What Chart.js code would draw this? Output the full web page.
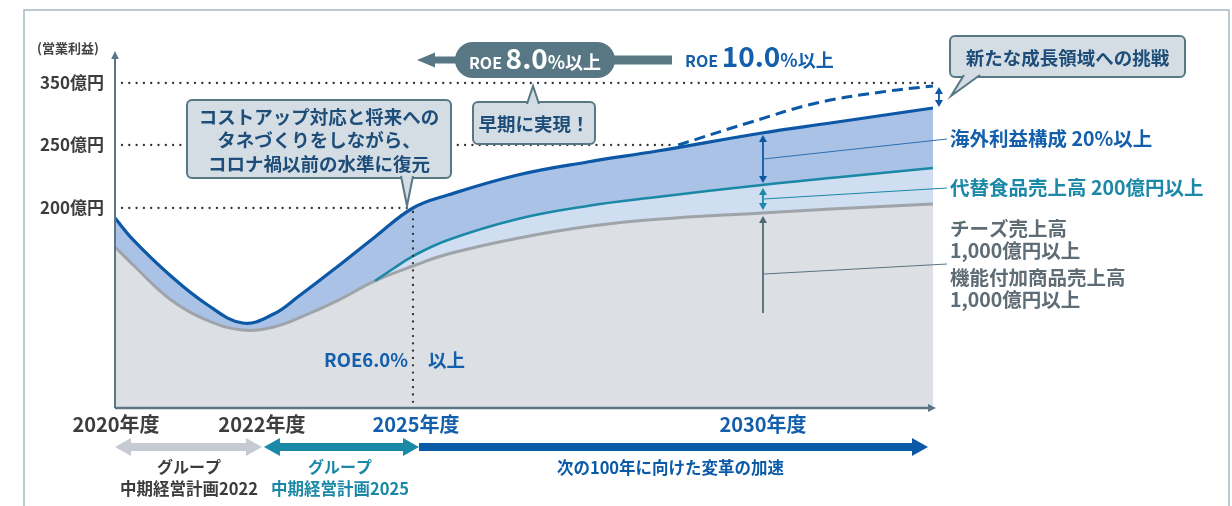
<!DOCTYPE html>
<html><head><meta charset="utf-8">
<script src="https://cdn.jsdelivr.net/npm/chart.js@4.4.1/dist/chart.umd.min.js"></script>
<style>html,body{margin:0;padding:0;background:#fff;}#wrap{width:1232px;height:506px;}</style>
</head><body><div id="wrap"><canvas id="c" width="1232" height="506"></canvas></div>
<script>
// ---- data (schematic values, 億円) ----
const years = [2020, 2020.25, 2020.75, 2021.25, 2021.75, 2022.25, 2022.75, 2023.5, 2024.25, 2025, 2025.5, 2026.5, 2027.5, 2028.5, 2030, 2031, 2032.5];
const operatingProfit = [192.1, 174.6, 146.7, 123.7, 108.6, 115.7, 130.0, 153.1, 177.0, 200.0, 210.3, 226.2, 236.5, 245.2, 269.4, 285.5, 309.7];
const coreBusiness = [169.0, 154.7, 127.7, 111.0, 103.0, 105.4, 112.6, 126.1, 142.0, 153.9, 163.4, 176.0, 185.3, 191.0, 196.0, 199.2, 203.2];
const altFoodYears = [2024.25, 2024.6, 2025, 2025.5, 2026.5, 2027.5, 2028.5, 2030, 2031, 2032.5];
const altFood = [142.0, 151.5, 161.8, 174.6, 191.3, 201.6, 208.7, 218.3, 223.8, 231.7];
const challengeYears = [2028.8, 2029.8, 2030.8, 2031.75, 2032.5];
const challenge = [250.0, 285.5, 317.7, 335.5, 345.2];
const yTickValues = [350, 250, 200];
const yTickLabels = ['350億円', '250億円', '200億円'];
const xTickValues = [2020, 2022, 2025, 2030];
const xTickLabels = ['2020年度', '2022年度', '2025年度', '2030年度'];

// ---- piecewise (schematic) scale ----
const BREAKS = {
  x: [[2020, 0], [2022, 0.1780], [2025, 0.3634], [2030, 0.7890], [2032.53, 1]],
  y: [[41, 0], [200, 0.5618], [250, 0.7388], [350, 0.9129], [400, 1]]
};
function interp(b, v, from, to) {
  for (let i = 0; i < b.length - 1; i++) {
    const a = b[i], c = b[i + 1];
    if (v <= c[from] || i === b.length - 2) {
      return a[to] + (v - a[from]) * (c[to] - a[to]) / (c[from] - a[from]);
    }
  }
}
class PiecewiseScale extends Chart.LinearScale {
  static id = 'piecewise';
  static defaults = Chart.LinearScale.defaults;
  getPixelForValue(value) {
    const f = interp(BREAKS[this.id], value, 0, 1);
    return this.isHorizontal() ? this.left + f * this.width : this.bottom - f * this.height;
  }
  getValueForPixel(pixel) {
    const f = this.isHorizontal() ? (pixel - this.left) / this.width : (this.bottom - pixel) / this.height;
    return interp(BREAKS[this.id], f, 1, 0);
  }
}
Chart.register(PiecewiseScale);

const FONT = '"Noto Sans CJK JP", "Noto Sans", sans-serif';
const C = {
  axis: '#5b7684', dark: '#3d3d3d', blue: '#0c58a6', blueText: '#135fab', teal: '#1a88a6',
  grayText: '#5e6c76', callFill: '#d5dde4', callText: '#1d4d78', slate: '#587784'
};
const pts = (xs, ys) => xs.map((x, i) => ({ x, y: ys[i] }));

function dotted(ctx, x1, y1, x2, y2) {
  ctx.save(); ctx.strokeStyle = '#2e2e2e'; ctx.lineWidth = 2.3; ctx.lineCap = 'round';
  ctx.setLineDash([0, 7.3]); ctx.beginPath(); ctx.moveTo(x1, y1); ctx.lineTo(x2, y2); ctx.stroke(); ctx.restore();
}
function head(ctx, x, y, dir, len, hw, color) {
  ctx.fillStyle = color; ctx.beginPath(); ctx.moveTo(x, y);
  if (dir === 'up') { ctx.lineTo(x - hw, y + len); ctx.lineTo(x + hw, y + len); }
  if (dir === 'down') { ctx.lineTo(x - hw, y - len); ctx.lineTo(x + hw, y - len); }
  if (dir === 'left') { ctx.lineTo(x + len, y - hw); ctx.lineTo(x + len, y + hw); }
  if (dir === 'right') { ctx.lineTo(x - len, y - hw); ctx.lineTo(x - len, y + hw); }
  ctx.closePath(); ctx.fill();
}
function vArrow(ctx, x, y1, y2, color, both) {
  ctx.save(); ctx.strokeStyle = color; ctx.lineWidth = 1.8;
  ctx.beginPath(); ctx.moveTo(x, y1 + 5); ctx.lineTo(x, both ? y2 - 5 : y2); ctx.stroke();
  head(ctx, x, y1, 'up', 7, 4, color);
  if (both) head(ctx, x, y2, 'down', 7, 4, color);
  ctx.restore();
}
function line(ctx, x1, y1, x2, y2, color, w) {
  ctx.save(); ctx.strokeStyle = color; ctx.lineWidth = w; ctx.beginPath(); ctx.moveTo(x1, y1); ctx.lineTo(x2, y2); ctx.stroke(); ctx.restore();
}
function text(ctx, s, x, y, size, color, align, weight) {
  ctx.save(); ctx.font = (weight || 'bold') + ' ' + size + 'px ' + FONT; ctx.fillStyle = color;
  ctx.textAlign = align || 'left'; ctx.textBaseline = 'middle'; ctx.fillText(s, x, y); ctx.restore();
}
function mixed(ctx, parts, x, y, color) {
  ctx.save(); ctx.fillStyle = color; ctx.textBaseline = 'alphabetic'; ctx.textAlign = 'left';
  let cx = x;
  for (const [s, size] of parts) { ctx.font = 'bold ' + size + 'px ' + FONT; ctx.fillText(s, cx, y); cx += ctx.measureText(s).width; }
  ctx.restore(); return cx - x;
}
function mixedWidth(ctx, parts) {
  let w = 0; ctx.save();
  for (const [s, size] of parts) { ctx.font = 'bold ' + size + 'px ' + FONT; w += ctx.measureText(s).width; }
  ctx.restore(); return w;
}
function callout(ctx, x, y, w, h, tail, lines, lh) {
  ctx.save();
  ctx.fillStyle = C.callFill; ctx.strokeStyle = C.slate; ctx.lineWidth = 2;
  ctx.beginPath(); ctx.roundRect(x, y, w, h, 5); ctx.fill(); ctx.stroke();
  ctx.beginPath(); ctx.moveTo(tail[0][0], tail[0][1]); ctx.lineTo(tail[2][0], tail[2][1]); ctx.lineTo(tail[1][0], tail[1][1]);
  ctx.closePath(); ctx.fill();
  ctx.beginPath(); ctx.moveTo(tail[0][0], tail[0][1]); ctx.lineTo(tail[2][0], tail[2][1]); ctx.lineTo(tail[1][0], tail[1][1]); ctx.stroke();
  ctx.restore();
  const cy = y + h / 2 - (lines.length - 1) * lh / 2;
  lines.forEach((s, i) => text(ctx, s, x + w / 2, cy + i * lh + 1, 18.5, C.callText, 'center'));
}
function hBar(ctx, x1, x2, y, color, leftHead, rightHead) {
  ctx.save(); ctx.fillStyle = color;
  const hl = 16, hw = 9, t = 8;
  ctx.fillRect(x1 + (leftHead ? hl - 1 : 0), y - t / 2, (x2 - x1) - (leftHead ? hl - 1 : 0) - (rightHead ? hl - 1 : 0), t);
  if (leftHead) head(ctx, x1, y, 'left', hl, hw, color);
  if (rightHead) head(ctx, x2, y, 'right', hl, hw, color);
  ctx.restore();
}

const overlay = {
  id: 'overlay',
  beforeDraw(chart) {
    const ctx = chart.ctx;
    ctx.save(); ctx.fillStyle = '#fff'; ctx.fillRect(0, 0, chart.width, chart.height); ctx.restore();
    ctx.save(); ctx.strokeStyle = '#a7b8c1'; ctx.lineWidth = 1.5;
    ctx.beginPath(); ctx.moveTo(24, 506); ctx.lineTo(24, 10); ctx.lineTo(1229, 10); ctx.lineTo(1229, 506); ctx.stroke(); ctx.restore();
  },
  afterDraw(chart) {
    const ctx = chart.ctx, xs = chart.scales.x, ys = chart.scales.y;
    const X = v => xs.getPixelForValue(v), Y = v => ys.getPixelForValue(v);
    const { left: L, right: R, top: T, bottom: B } = chart.chartArea;

    dotted(ctx, L + 7, Y(350), R, Y(350));
    dotted(ctx, L + 7, Y(250), X(challengeYears[0]) - 2, Y(250));
    dotted(ctx, L + 7, Y(200), X(2025), Y(200));
    dotted(ctx, X(2025), Y(200) + 4, X(2025), B - 2);

    line(ctx, L, B, L, T + 6, C.axis, 2);
    head(ctx, L, T - 1, 'up', 8, 3.8, C.axis);
    line(ctx, L, B, R - 6, B, C.axis, 2.4);
    head(ctx, R + 1, B, 'right', 8, 4, C.axis);

    text(ctx, '(営業利益)', 37, 48, 13, '#444', 'left');
    yTickValues.forEach((v, i) => text(ctx, yTickLabels[i], 104, Y(v), 17, C.dark, 'right'));

    const xColors = [C.dark, C.dark, C.blueText, C.blueText];
    xTickValues.forEach((v, i) => text(ctx, xTickLabels[i], X(v) + (i === 2 ? 3 : 1), 424, 20, xColors[i], 'center'));

    const yb = 447;
    hBar(ctx, X(2020), X(2022) + 1, yb, '#c5cad3', true, true);
    hBar(ctx, X(2022) + 3, X(2025) + 6, yb, '#1a89a8', true, true);
    hBar(ctx, X(2025) + 6, 928, yb, '#0b5aa8', false, true);
    const c1 = (X(2020) + X(2022)) / 2 + 1, c2 = (X(2022) + X(2025)) / 2 + 3, c3 = (X(2025) + 928) / 2;
    text(ctx, 'グループ', c1, 467, 16, C.dark, 'center');
    text(ctx, '中期経営計画2022', c1, 489, 16.5, C.dark, 'center');
    text(ctx, 'グループ', c2, 467, 16, C.teal, 'center');
    text(ctx, '中期経営計画2025', c2, 489, 16.5, C.teal, 'center');
    text(ctx, '次の100年に向けた変革の加速', c3, 468, 16.5, '#0b5aa8', 'center');

    text(ctx, 'ROE6.0%', X(2025) - 5, 360, 18.5, C.blueText, 'right');
    text(ctx, '以上', X(2025) + 15, 360, 18.5, C.blueText, 'left');

    const i30 = years.indexOf(2030), j30 = altFoodYears.indexOf(2030);
    const pb = Y(operatingProfit[i30]), pt = Y(altFood[j30]), pg = Y(coreBusiness[i30]);
    const xa = X(2030) + 1;
    vArrow(ctx, xa, pb + 2, pt - 2, C.blue, true);
    vArrow(ctx, xa, pt + 3, pg - 3, C.teal, true);
    vArrow(ctx, xa, pg + 3, pg + 100, '#4e6a78', false);
    line(ctx, xa + 1, (pb + pt) / 2, 947, 139, '#2f6fb2', 1);
    line(ctx, xa + 1, (pt + pg) / 2, 947, 188, C.teal, 1);
    line(ctx, xa + 1, pg + 61, 947, 264, '#5b7280', 1);

    const xe = X(2032.5) + 6;
    vArrow(ctx, xe, Y(challenge[challenge.length - 1]) + 1, Y(operatingProfit[operatingProfit.length - 1]) - 1, C.blue, true);

    text(ctx, '海外利益構成 20%以上', 950, 139, 19.5, C.blueText, 'left');
    text(ctx, '代替食品売上高 200億円以上', 950, 188, 19.5, C.teal, 'left');
    text(ctx, 'チーズ売上高', 950, 229, 19.5, C.grayText, 'left');
    text(ctx, '1,000億円以上', 950, 251, 19.5, C.grayText, 'left');
    text(ctx, '機能付加商品売上高', 950, 278, 19.5, C.grayText, 'left');
    text(ctx, '1,000億円以上', 950, 300, 19.5, C.grayText, 'left');

    callout(ctx, 187, 100, 264, 78, [[401, 176], [413, 176], [407, 206]],
      ['コストアップ対応と将来への', 'タネづくりをしながら、', 'コロナ禍以前の水準に復元'], 23.5);
    callout(ctx, 473, 102, 122, 42, [[527, 104], [539, 104], [533, 86]], ['早期に実現！'], 0);
    callout(ctx, 950, 36, 235, 41, [[964, 75], [980, 75], [951, 96]], ['新たな成長領域への挑戦'], 0);

    ctx.save(); ctx.fillStyle = C.slate;
    ctx.fillRect(434, 56.5, 24, 7);
    head(ctx, 417, 60, 'left', 18, 7.5, C.slate);
    ctx.fillRect(612, 55.5, 60, 9);
    ctx.beginPath(); ctx.roundRect(455, 42, 160, 36, 18); ctx.fill();
    ctx.restore();
    const p8 = [['ROE ', 16], ['8.0', 28], ['%以上', 18]];
    const w8 = mixedWidth(ctx, p8);
    mixed(ctx, p8, 535 - w8 / 2, 69, '#fff');
    mixed(ctx, [['ROE ', 16], ['10.0', 28], ['%以上', 18]], 685, 67, C.blueText);
  }
};

new Chart(document.getElementById('c'), {
  type: 'line',
  data: {
    datasets: [
      { label: '代替食品', data: pts(altFoodYears, altFood), borderColor: C.teal, borderWidth: 2.6,
        backgroundColor: '#cfdef1', fill: 2, pointRadius: 0, tension: 0.4 },
      { label: '営業利益', data: pts(years, operatingProfit), borderColor: C.blue, borderWidth: 3.2,
        backgroundColor: '#a9c2e5', fill: 2, pointRadius: 0, tension: 0.4 },
      { label: '基盤事業', data: pts(years, coreBusiness), borderColor: '#9fa4aa', borderWidth: 3,
        backgroundColor: '#dcdfe4', fill: 'start', pointRadius: 0, tension: 0.4 },
      { label: '新たな成長領域', data: pts(challengeYears, challenge), borderColor: C.blue, borderWidth: 3,
        borderDash: [11, 6], fill: false, pointRadius: 0, tension: 0.4 }
    ]
  },
  options: {
    responsive: false, animation: false, devicePixelRatio: 1,
    layout: { padding: { left: 115, right: 297, top: 52, bottom: 98 } },
    scales: {
      x: { type: 'piecewise', min: 2020, max: 2032.53, display: false },
      y: { type: 'piecewise', min: 41, max: 400, display: false }
    },
    plugins: { legend: { display: false }, tooltip: { enabled: false }, filler: { drawTime: 'beforeDatasetsDraw' } },
    events: []
  },
  plugins: [overlay]
});
</script></body></html>
